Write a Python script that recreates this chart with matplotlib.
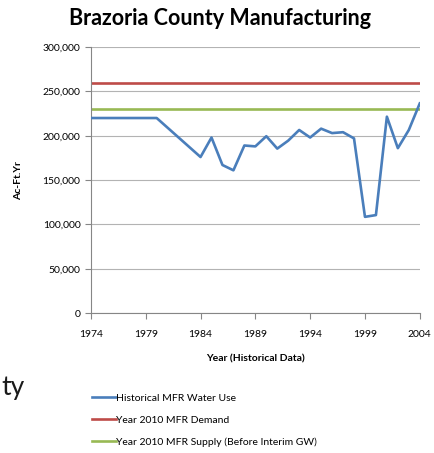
import matplotlib
matplotlib.use('Agg')
import matplotlib.pyplot as plt

plt.rcParams['font.family'] = ['Lato', 'DejaVu Sans']

years = [1974, 1980, 1984, 1985, 1986, 1987, 1988, 1989, 1990, 1991, 1992,
         1993, 1994, 1995, 1996, 1997, 1998, 1999, 2000, 2001, 2002, 2003, 2004]
use = [220000, 220000, 176000, 198000, 167000, 161000, 189000, 188000, 199500,
       185500, 194500, 206500, 198000, 208000, 203000, 204000, 197000, 108500,
       110500, 221500, 186000, 206500, 236500]
demand_2010 = 260000
supply_2010 = 230000
xticks = [1974, 1979, 1984, 1989, 1994, 1999, 2004]
yticks = [0, 50000, 100000, 150000, 200000, 250000, 300000]

fig = plt.figure(figsize=(4.35, 4.53), dpi=100)
ax = fig.add_axes([0.209, 0.309, 0.756, 0.587])

ax.plot(years, use, color='#4a7ebb', lw=1.9, label='Historical MFR Water Use', zorder=3)
ax.plot([1974, 2004], [demand_2010] * 2, color='#be4b48', lw=1.9, label='Year 2010 MFR Demand')
ax.plot([1974, 2004], [supply_2010] * 2, color='#98b954', lw=1.9,
        label='Year 2010 MFR Supply (Before Interim GW)')

ax.set_xlim(1974, 2004)
ax.set_ylim(0, 300000)
ax.set_xticks(xticks)
ax.set_yticks(yticks)
ax.set_yticklabels(['{:,}'.format(v) for v in yticks])
ax.tick_params(labelsize=7.5, color='#868686', length=4, width=0.8)
ax.tick_params(axis='x', pad=8)
ax.grid(axis='y', color='#b3b3b3', lw=0.8)
ax.set_axisbelow(True)
for s in ['top', 'right']:
    ax.spines[s].set_visible(False)
for s in ['left', 'bottom']:
    ax.spines[s].set_color('#868686')
    ax.spines[s].set_linewidth(0.8)

ax.set_xlabel('Year (Historical Data)', fontsize=7.5, fontweight='bold', labelpad=11)
ax.set_ylabel('Ac-Ft.Yr', fontsize=7.5, fontweight='bold', labelpad=14)
fig.text(0.505, 0.96, 'Brazoria County Manufacturing', fontsize=15.5, fontweight='bold',
         ha='center', va='center')
fig.text(0.003, 0.145, 'ty', fontsize=19, ha='left', va='center', color='#1a1a1a')

leg = fig.legend(loc='upper left', bbox_to_anchor=(0.19, 0.152), frameon=False,
                 fontsize=7.5, handlelength=2.3, handletextpad=0.0, labelspacing=1.2)

fig.savefig('out.png', dpi=100)
